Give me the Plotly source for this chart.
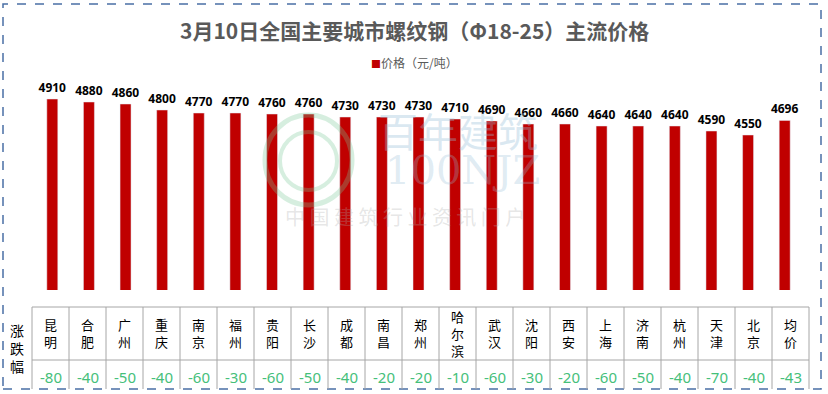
import plotly.graph_objects as go

cities = ["昆明", "合肥", "广州", "重庆", "南京", "福州", "贵阳", "长沙", "成都", "南昌",
          "郑州", "哈尔滨", "武汉", "沈阳", "西安", "上海", "济南", "杭州", "天津", "北京", "均价"]
prices = [4910, 4880, 4860, 4800, 4770, 4770, 4760, 4760, 4730, 4730,
          4730, 4710, 4690, 4660, 4660, 4640, 4640, 4640, 4590, 4550, 4696]
changes = ["-80", "-40", "-50", "-40", "-60", "-30", "-60", "-50", "-40", "-20",
           "-20", "-10", "-60", "-30", "-20", "-60", "-50", "-40", "-70", "-40", "-43"]
series_name = "价格（元/吨）"

W, H = 828, 394
CJK = "Noto Sans CJK SC"

def py(p):
    return 1 - p / H

def px(p):
    return p / W

fig = go.Figure()
fig.add_trace(go.Bar(
    x=list(range(len(cities))), y=prices, name=series_name, showlegend=False,
    marker_color="#C00000", width=0.3,
    text=[str(v) for v in prices], textposition="outside", constraintext="none",
    textfont=dict(family="Noto Sans, sans-serif", size=12, color="#000000"),
    texttemplate="<b>%{text}</b>", cliponaxis=False,
))

shapes = []
annotations = []

# outer dashed border
shapes.append(dict(type="rect", xref="paper", yref="paper",
                   x0=px(3), x1=px(821), y0=py(389), y1=py(4),
                   line=dict(color="#4A6FA5", width=1.5, dash="dash")))

# table
tx0, cw = 32, 37
n = len(cities)
tx1 = tx0 + cw * n
ytop, ymid, ybot = 307, 360, 389
grid = dict(color="#A6A6A6", width=1)
shapes.append(dict(type="line", xref="paper", yref="paper", x0=px(tx0), x1=px(tx1), y0=py(ytop), y1=py(ytop), line=grid))
shapes.append(dict(type="line", xref="paper", yref="paper", x0=px(tx0), x1=px(tx1), y0=py(ymid), y1=py(ymid), line=grid))
for i in range(n + 1):
    xx = tx0 + cw * i
    shapes.append(dict(type="line", xref="paper", yref="paper", x0=px(xx), x1=px(xx), y0=py(ytop), y1=py(ybot), line=grid))

for i, (c, ch) in enumerate(zip(cities, changes)):
    cx = tx0 + cw * i + cw / 2
    annotations.append(dict(x=px(cx), y=py(333), xref="paper", yref="paper",
                            text="<br>".join(list(c)), showarrow=False,
                            font=dict(family=CJK, size=13, color="#000000"),
                            xanchor="center", yanchor="middle", align="center"))
    annotations.append(dict(x=px(cx), y=py(377), xref="paper", yref="paper",
                            text=ch, showarrow=False,
                            font=dict(family="Noto Sans, sans-serif", size=15, color="#45C07A"),
                            xanchor="center", yanchor="middle"))

annotations.append(dict(x=px(17), y=py(348), xref="paper", yref="paper",
                        text="涨<br>跌<br>幅", showarrow=False,
                        font=dict(family=CJK, size=14, color="#000000"),
                        xanchor="center", yanchor="middle", align="center"))

# title
annotations.append(dict(x=px(414), y=py(30), xref="paper", yref="paper",
                        text="<b>3月10日全国主要城市螺纹钢（Φ18-25）主流价格</b>", showarrow=False,
                        font=dict(family=CJK, size=21, color="#595959"),
                        xanchor="center", yanchor="middle"))

# legend
annotations.append(dict(x=px(414), y=py(63), xref="paper", yref="paper",
                        text="<span style='color:#C00000;font-size:10px'>■</span>" + series_name,
                        showarrow=False,
                        font=dict(family=CJK, size=12, color="#595959"),
                        xanchor="center", yanchor="middle"))

# watermark
annotations.append(dict(x=px(458), y=py(130), xref="paper", yref="paper",
                        text="百年建筑", showarrow=False,
                        font=dict(family=CJK, size=40, color="rgba(150,190,215,0.35)"),
                        xanchor="center", yanchor="middle"))
annotations.append(dict(x=px(462), y=py(170), xref="paper", yref="paper",
                        text="100NJZ", showarrow=False,
                        font=dict(family="DejaVu Serif", size=40, color="rgba(150,190,215,0.3)"),
                        xanchor="center", yanchor="middle"))
annotations.append(dict(x=px(405), y=py(216), xref="paper", yref="paper",
                        text="中 国 建 筑 行 业 资 讯 门 户", showarrow=False,
                        font=dict(family=CJK, size=20, color="rgba(170,170,170,0.3)"),
                        xanchor="center", yanchor="middle"))
shapes.append(dict(type="circle", xref="paper", yref="paper",
                   x0=px(265), x1=px(352), y0=py(205), y1=py(115),
                   line=dict(color="rgba(120,200,150,0.3)", width=5)))
shapes.append(dict(type="circle", xref="paper", yref="paper",
                   x0=px(280), x1=px(337), y0=py(190), y1=py(132),
                   line=dict(color="rgba(120,200,150,0.3)", width=4)))

fig.update_layout(
    width=W, height=H,
    margin=dict(l=0, r=0, t=0, b=0),
    paper_bgcolor="#FFFFFF", plot_bgcolor="rgba(0,0,0,0)",
    showlegend=False,
    xaxis=dict(domain=[px(34), px(803)], range=[-0.5, n - 0.5],
               showticklabels=False, showgrid=False, zeroline=False, showline=False, ticks=""),
    yaxis=dict(domain=[py(290), py(80)], range=[3000, 5100],
               showticklabels=False, showgrid=False, zeroline=False, showline=False, ticks=""),
    shapes=shapes, annotations=annotations,
    bargap=0.7,
)

fig.write_html("out.html", config={"displayModeBar": False},
               post_script="document.body.style.margin='0';document.body.style.overflow='hidden';")
